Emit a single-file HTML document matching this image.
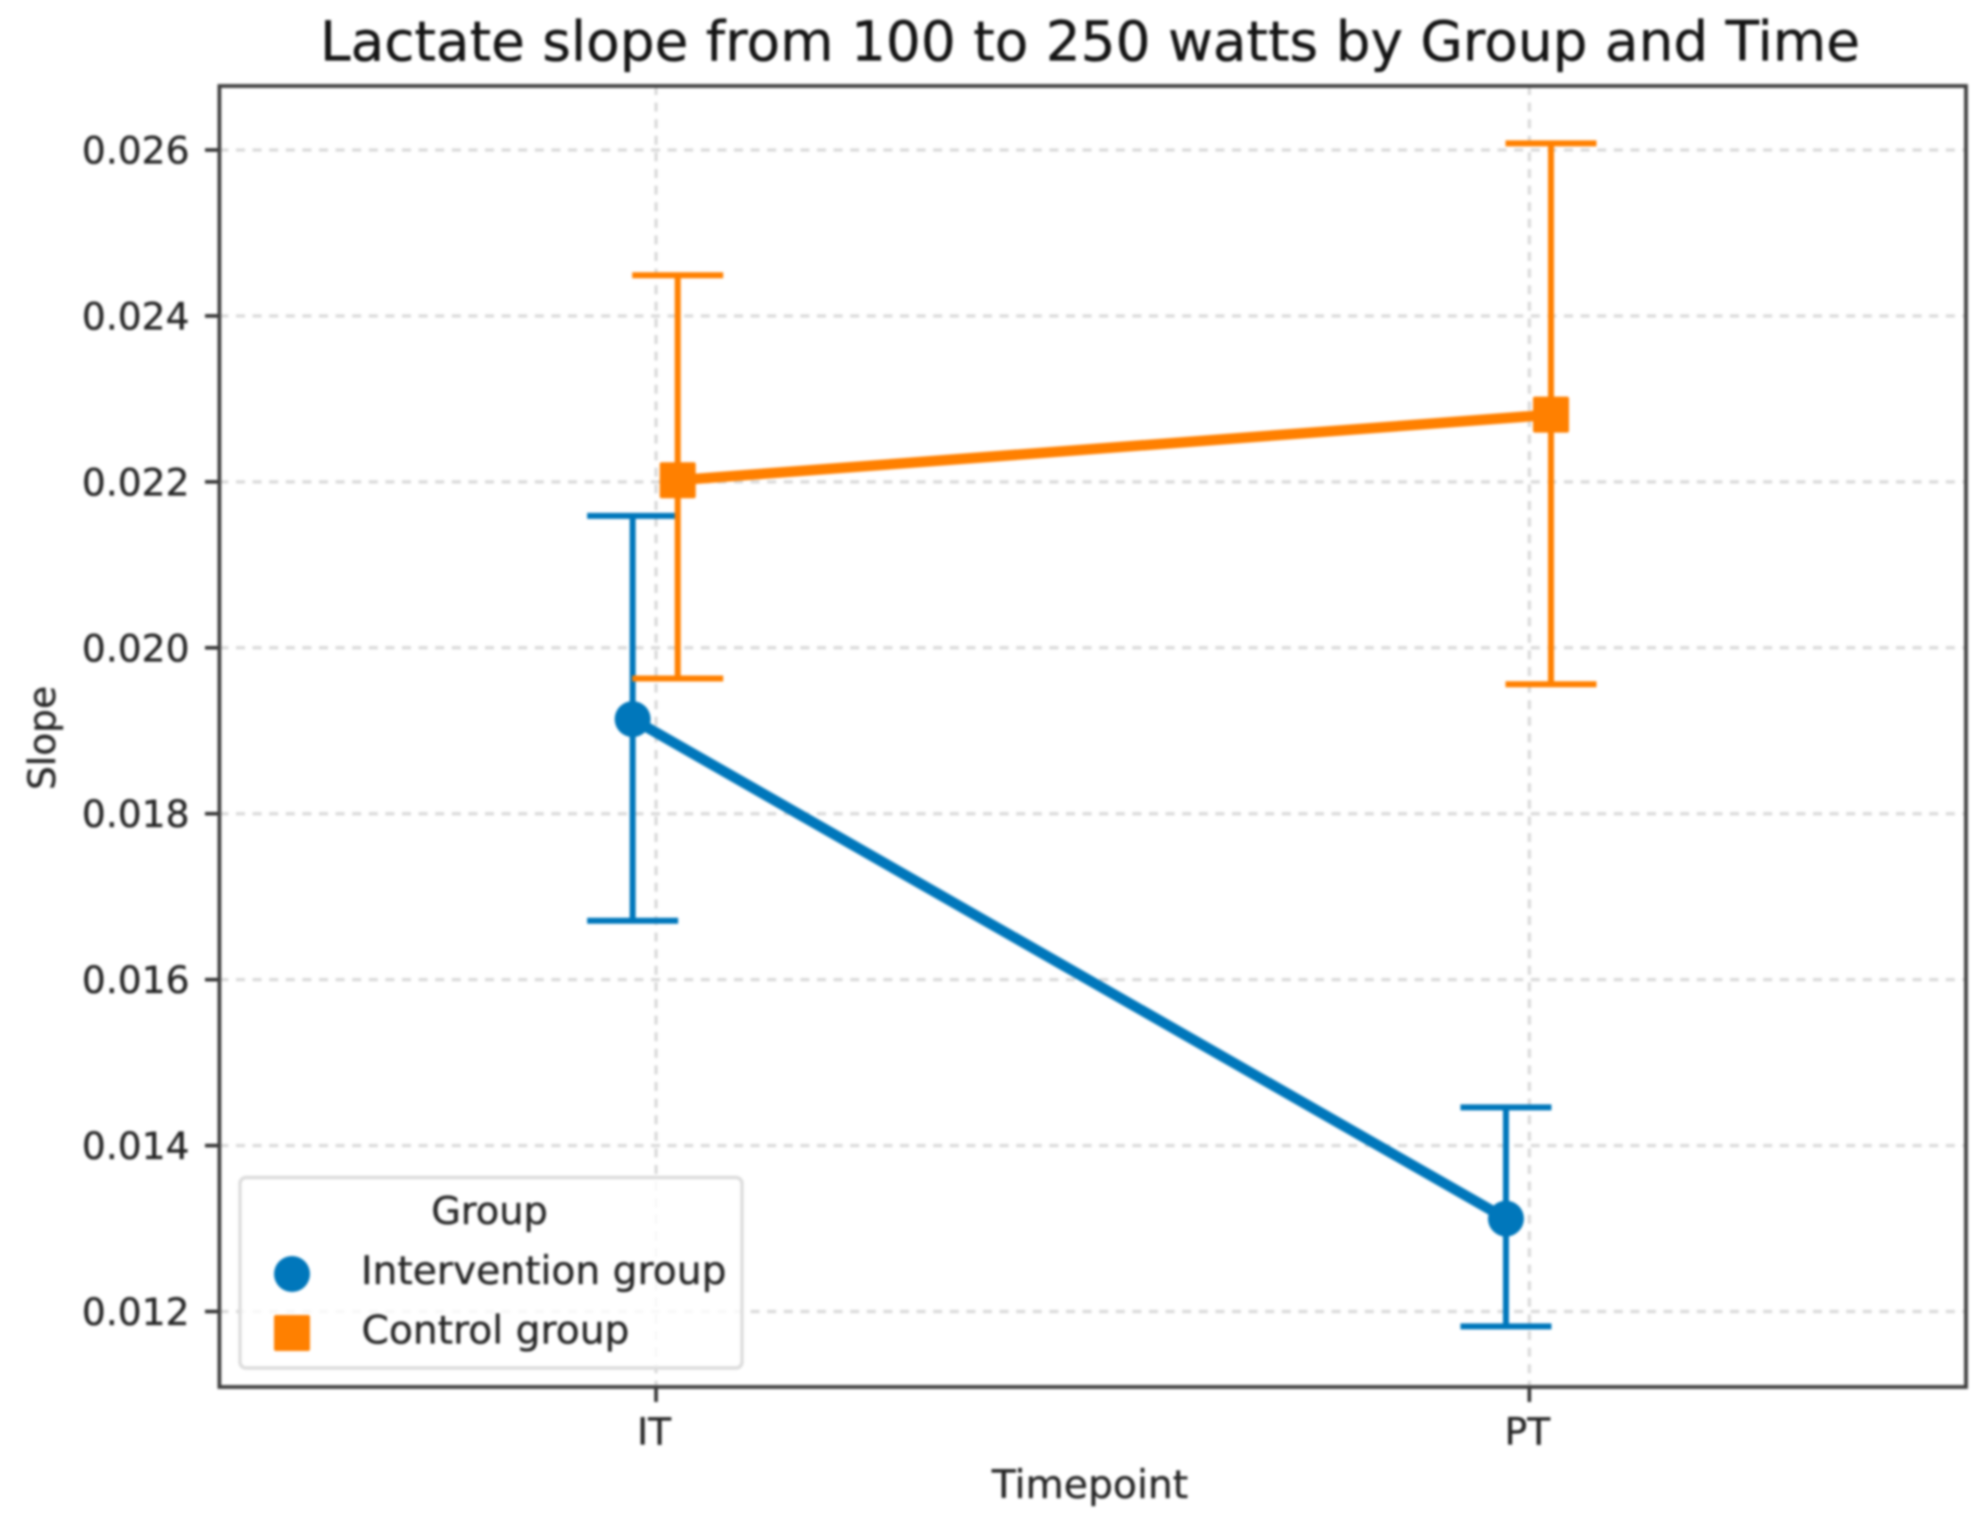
<!DOCTYPE html>
<html lang="en">
<head>
<meta charset="utf-8">
<title>Lactate slope from 100 to 250 watts by Group and Time</title>
<style>
  html, body { margin: 0; padding: 0; background: #ffffff; }
  #chart { display: block; width: 1986px; height: 1528px; filter: blur(1.25px); }
  text { font-family: "DejaVu Sans", "Liberation Sans", sans-serif; fill: #262626; stroke: #262626; stroke-width: 0.35px; }
</style>
</head>
<body>
<svg id="chart" xmlns="http://www.w3.org/2000/svg" width="1986" height="1528" viewBox="0 0 1986 1528">
  <rect x="0" y="0" width="1986" height="1528" fill="#ffffff"/>
  <text x="1090" y="60.5" font-size="54.9" text-anchor="middle" style="fill:#141414;stroke:#141414">Lactate slope from 100 to 250 watts by Group and Time</text>
  <g id="grid"></g>
  <g id="series"></g>
  <g id="axes"></g>
  <text x="1090" y="1498" font-size="39.3" text-anchor="middle">Timepoint</text>
  <text x="0" y="0" font-size="37.5" text-anchor="middle" transform="translate(55 738) rotate(-90)">Slope</text>
  <g id="legend">
    <rect x="240" y="1177.5" width="502" height="190.5" rx="6" ry="6" fill="#ffffff" fill-opacity="0.8" stroke="#dcdcdc" stroke-width="3.4"/>
    <text x="489.5" y="1224" font-size="38.3" text-anchor="middle">Group</text>
    <g>
      <circle cx="292" cy="1274" r="18" fill="#0077bb"/>
      <text x="361" y="1284" font-size="39.2">Intervention group</text>
    </g>
    <g>
      <rect x="274" y="1315" width="36" height="36" rx="2" fill="#ff8000"/>
      <text x="361.5" y="1343.5" font-size="39.2">Control group</text>
    </g>
  </g>
</svg>
<script>
// ---- chart data ----
const categories = ['IT', 'PT'];
const yTickValues = [0.012, 0.014, 0.016, 0.018, 0.020, 0.022, 0.024, 0.026];
const yTickLabels = ['0.012', '0.014', '0.016', '0.018', '0.020', '0.022', '0.024', '0.026'];
const interventionMean = [0.01914, 0.01312];
const interventionLow = [0.01671, 0.01182];
const interventionHigh = [0.02159, 0.01446];
const controlMean = [0.02202, 0.02281];
const controlLow = [0.01963, 0.01956];
const controlHigh = [0.02449, 0.02608];

// ---- axis functions ----
const NS = 'http://www.w3.org/2000/svg';
const plot = { left: 219.4, right: 1966, top: 86, bottom: 1387 };
const xDomain = [-0.5, 1.5];
const dodge = 0.0258;
const seriesShift = -0.001;
function xScale(v) {
  return plot.left + (v - xDomain[0]) / (xDomain[1] - xDomain[0]) * (plot.right - plot.left);
}
function yScale(v) {
  return 150 + (0.026 - v) / 0.014 * (1311.5 - 150);
}
function make(tag, attrs, parent) {
  const el = document.createElementNS(NS, tag);
  for (const k in attrs) el.setAttribute(k, attrs[k]);
  parent.appendChild(el);
  return el;
}

const gridLayer = document.getElementById('grid');
const axesLayer = document.getElementById('axes');
const seriesLayer = document.getElementById('series');
const gridStyle = { stroke: '#d9d9d9', 'stroke-width': 3.2, 'stroke-dasharray': '9 7.6' };

// ---- grid ----
yTickValues.forEach(function (v, i) {
  const line = make('line', Object.assign({ x1: plot.left, x2: plot.right, y1: yScale(v), y2: yScale(v) }, gridStyle), gridLayer);
  
  
});
categories.forEach(function (c, i) {
  const line = make('line', Object.assign({ x1: xScale(i), x2: xScale(i), y1: plot.top, y2: plot.bottom }, gridStyle), gridLayer);
  
  
});

// ---- series ----
function drawSeries(key, color, shape, offset, mean, low, high) {
  const group = make('g', {}, seriesLayer);
  
  
  const capHalf = 45.5;
  categories.forEach(function (c, i) {
    const x = xScale(i + offset);
    const stem = make('line', { x1: x, x2: x, y1: yScale(low[i]), y2: yScale(high[i]), stroke: color, 'stroke-width': 6 }, group);
    
    
    const capTop = make('line', { x1: x - capHalf, x2: x + capHalf, y1: yScale(high[i]), y2: yScale(high[i]), stroke: color, 'stroke-width': 6 }, group);
    
    
    const capLow = make('line', { x1: x - capHalf, x2: x + capHalf, y1: yScale(low[i]), y2: yScale(low[i]), stroke: color, 'stroke-width': 6 }, group);
    
    
  });
  const pts = mean.map(function (v, i) { return xScale(i + offset) + ',' + yScale(v); }).join(' ');
  const path = make('polyline', { points: pts, fill: 'none', stroke: color, 'stroke-width': 10.5 }, group);
  
  
  mean.forEach(function (v, i) {
    const x = xScale(i + offset);
    const y = yScale(v);
    let marker;
    if (shape === 'circle') {
      marker = make('circle', { cx: x, cy: y, r: 18, fill: color }, group);
    } else {
      marker = make('rect', { x: x - 18, y: y - 18, width: 36, height: 36, rx: 2, fill: color }, group);
    }
    
    
  });
}
drawSeries('intervention', '#0077bb', 'circle', seriesShift - dodge, interventionMean, interventionLow, interventionHigh);
drawSeries('control', '#ff8000', 'square', seriesShift + dodge, controlMean, controlLow, controlHigh);

// ---- ticks and labels ----
yTickValues.forEach(function (v, i) {
  const y = yScale(v);
  const tick = make('line', { x1: 205, x2: plot.left, y1: y, y2: y, stroke: '#333333', 'stroke-width': 3.6 }, axesLayer);
  
  
  const label = make('text', { x: 189.5, y: y + 13.5, 'font-size': 37.6, 'text-anchor': 'end' }, axesLayer);
  label.textContent = yTickLabels[i];
  
  
});
categories.forEach(function (c, i) {
  const x = xScale(i);
  const tick = make('line', { x1: x, x2: x, y1: plot.bottom, y2: 1402, stroke: '#333333', 'stroke-width': 3.6 }, axesLayer);
  
  
  const label = make('text', { x: x - 2, y: 1444.5, 'font-size': 37.5, 'text-anchor': 'middle' }, axesLayer);
  label.textContent = c;
  
  
});

// ---- spines ----
const frame = make('rect', { x: plot.left, y: plot.top, width: plot.right - plot.left, height: plot.bottom - plot.top, fill: 'none', stroke: '#404040', 'stroke-width': 3.8 }, axesLayer);


</script>
</body>
</html>
